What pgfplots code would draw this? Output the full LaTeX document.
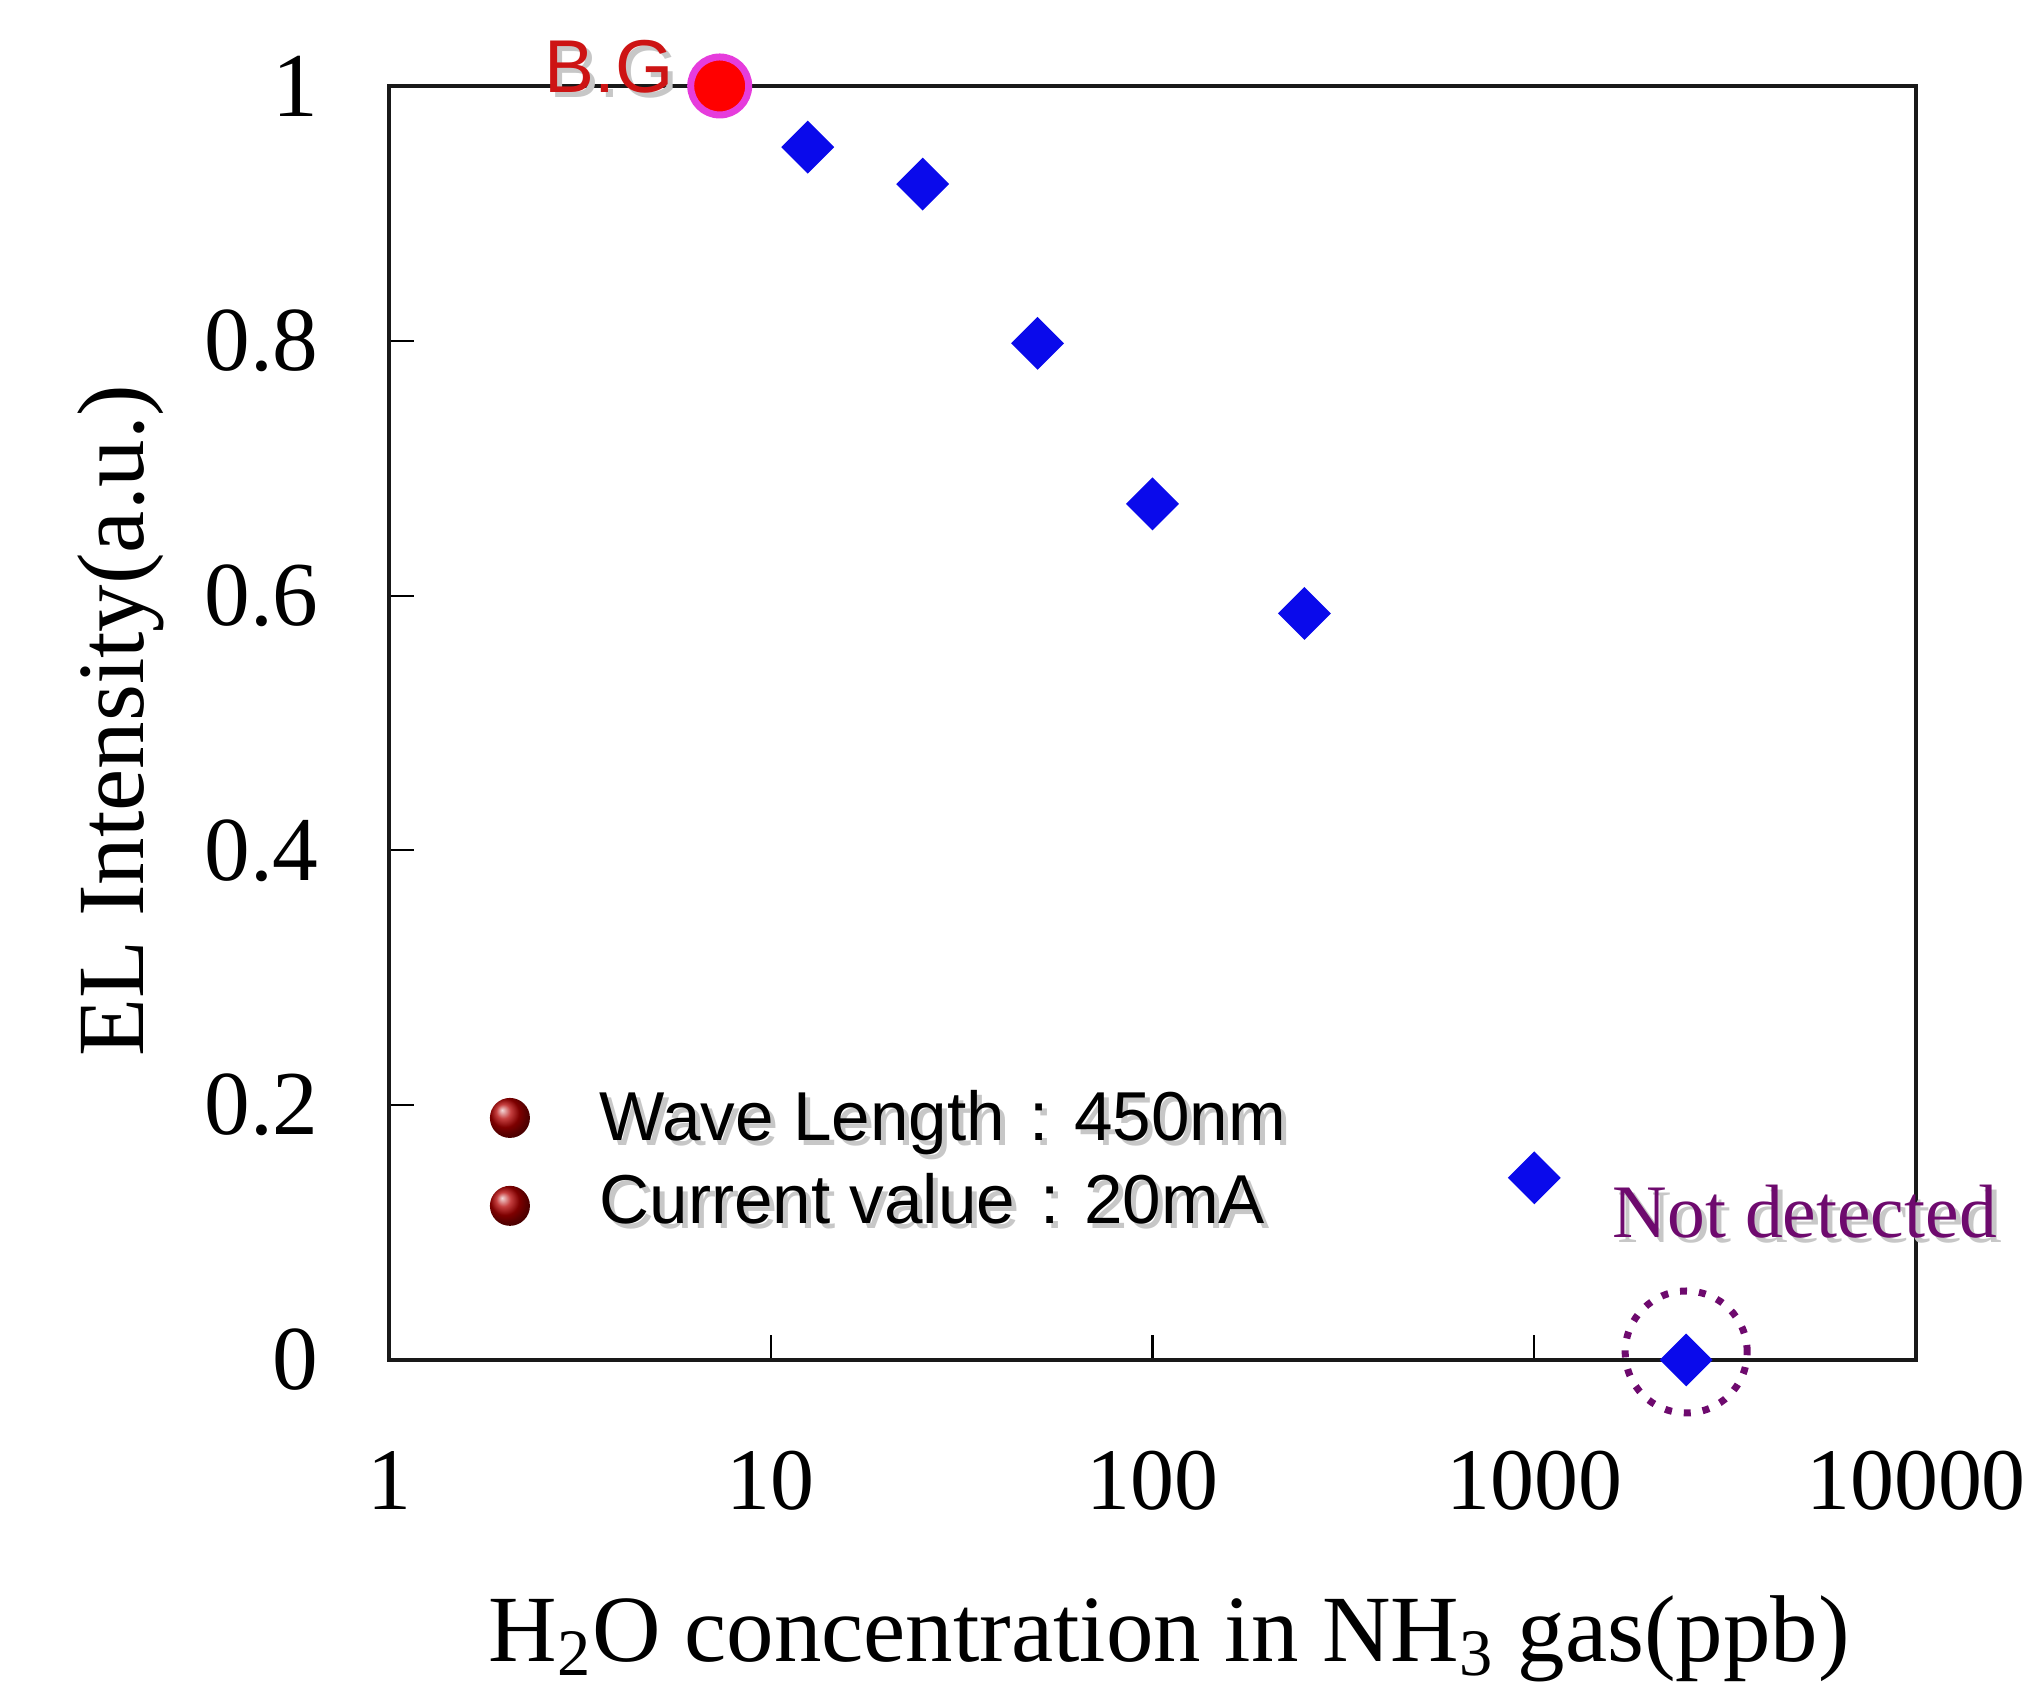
\documentclass[border=0pt]{standalone}
\usepackage{pgfplots}
\pgfplotsset{compat=1.18}
\usepackage{fontspec}
\setmainfont{Liberation Serif}
\newfontfamily\arialfont{Liberation Sans}
\usetikzlibrary{shadings}
\definecolor{dblue}{RGB}{10,10,235}
\definecolor{bgred}{RGB}{255,0,0}
\definecolor{bgedge}{RGB}{230,60,220}
\definecolor{ndpurple}{RGB}{110,10,110}
\definecolor{lblred}{RGB}{205,20,20}
\begin{document}
\begin{tikzpicture}
\path[use as bounding box] (-3.89,-3.27) rectangle (16.44,13.60);
\begin{axis}[
  scale only axis, width=15.27cm, height=12.74cm,
  xmode=log, xmin=1, xmax=10000, ymin=0, ymax=1,
  xtick={1,10,100,1000,10000}, xticklabels={1,10,100,1000,10000},
  ytick={0,0.2,0.4,0.6,0.8,1}, yticklabels={0,0.2,0.4,0.6,0.8,1},
  xminorticks=false,
  tick align=inside, xtick pos=bottom, ytick pos=left,
  major tick length=0.25cm,
  tick style={black, line width=0.6pt},
  axis line style={line width=1.15pt, black!90},
  xticklabel style={font=\fontsize{25}{30}\selectfont, yshift=-0.79cm},
  yticklabel style={font=\fontsize{26}{31}\selectfont, xshift=-0.58cm},
  xlabel={H\textsubscript{2}O concentration in NH\textsubscript{3} gas(ppb)},
  ylabel={EL Intensity(a.u.)},
  label style={font=\fontsize{27}{32}\selectfont},
  xlabel style={at={(axis description cs:0.511,-0.237)}, anchor=base},
  ylabel style={at={(axis description cs:-0.161,0.502)}, anchor=base},
  clip=false,
]
\addplot[only marks, mark=square*, mark size=0.18cm,
  mark options={rotate=45, fill=dblue, draw=dblue}]
  coordinates {(12.5,0.952) (25,0.923) (50,0.798) (100,0.672) (250,0.586) (1000,0.143) (2500,0)};
\addplot[only marks, mark=*, mark size=0.29cm,
  mark options={fill=bgred, draw=bgedge, line width=0.07cm}]
  coordinates {(7.35,1.0)};
\draw[ndpurple, line width=0.07cm, dash pattern=on 0.07cm off 0.12cm]
  ([yshift=0.08cm]axis cs:2500,0) circle[radius=0.61cm];
% shadows
\node[anchor=base east, text=black!22, font=\arialfont\fontsize{21.3}{25}\selectfont, inner sep=0, xshift=0.05cm, yshift=-0.05cm] at (axis description cs:0.187,0.995) {B.G};
\node[anchor=base east, text=lblred, font=\arialfont\fontsize{21.3}{25}\selectfont, inner sep=0] at (axis description cs:0.187,0.995) {B.G};
\node[anchor=base west, text=black!22, font=\fontsize{21.5}{26}\selectfont, inner sep=0, xshift=0.05cm, yshift=-0.05cm] at (axis description cs:0.801,0.0965) {Not detected};
\node[anchor=base west, text=ndpurple, font=\fontsize{21.5}{26}\selectfont, inner sep=0] at (axis description cs:0.801,0.0965) {Not detected};
\shade[ball color=red!70!black] (axis description cs:0.0792,0.190) circle[radius=0.2cm];
\shade[ball color=red!70!black] (axis description cs:0.0792,0.121) circle[radius=0.2cm];
\node[anchor=base west, text=black!22, font=\arialfont\fontsize{19.7}{23}\selectfont, inner sep=0, xshift=0.05cm, yshift=-0.05cm] at (axis description cs:0.1375,0.172) {Wave Length\hspace{0.36em}:\hspace{0.36em}450nm};
\node[anchor=base west, font=\arialfont\fontsize{19.7}{23}\selectfont, inner sep=0] at (axis description cs:0.1375,0.172) {Wave Length\hspace{0.36em}:\hspace{0.36em}450nm};
\node[anchor=base west, text=black!22, font=\arialfont\fontsize{19.7}{23}\selectfont, inner sep=0, xshift=0.05cm, yshift=-0.05cm] at (axis description cs:0.1375,0.1075) {Current value\hspace{0.36em}:\hspace{0.36em}20mA};
\node[anchor=base west, font=\arialfont\fontsize{19.7}{23}\selectfont, inner sep=0] at (axis description cs:0.1375,0.1075) {Current value\hspace{0.36em}:\hspace{0.36em}20mA};
\end{axis}
\end{tikzpicture}
\end{document}
